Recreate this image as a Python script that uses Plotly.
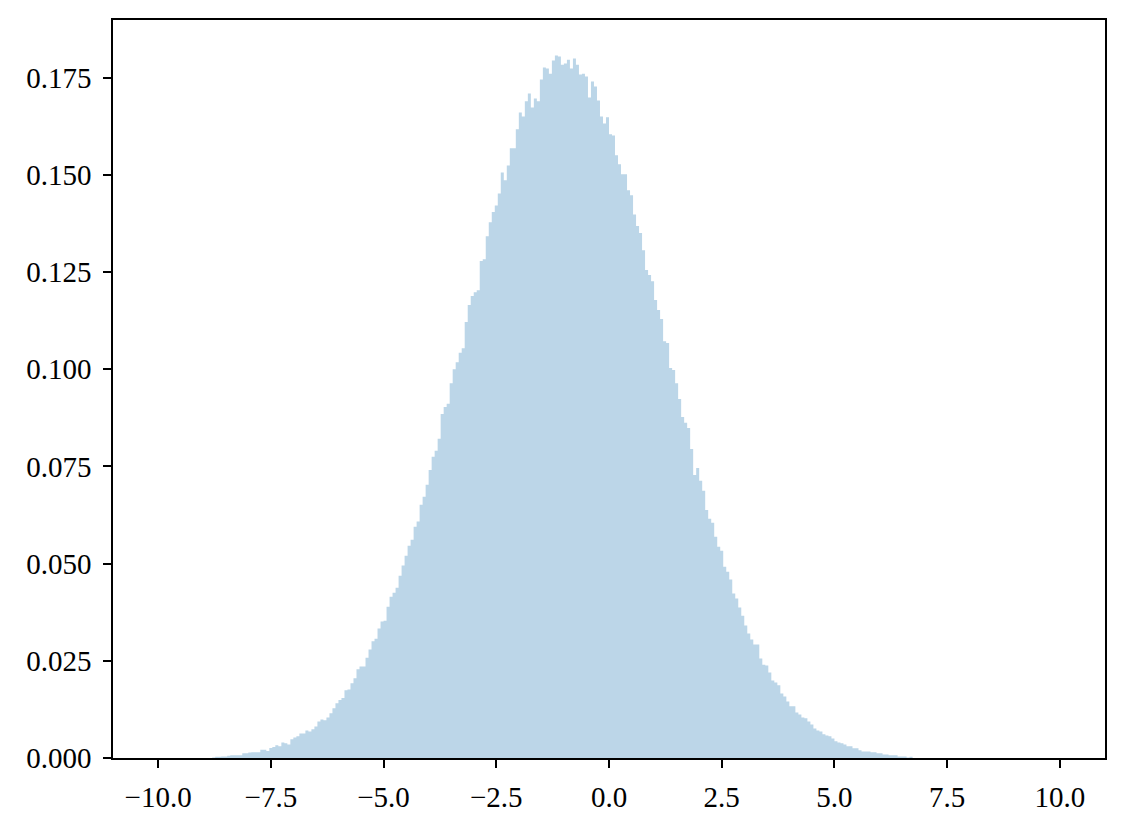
import plotly.graph_objects as go

# Histogram (density), 300 bins across [-10, 10].
# Only the non-empty stretch is listed; bins outside it are zero.
BIN_COUNT = 300
HIST_MIN, HIST_MAX = -10.0, 10.0
FIRST_BIN = 18  # index of the first listed bin (left edge -8.8)

density = [
    0.0001, 0.0003, 0.0003, 0.0004, 0.0004, 0.0006, 0.0007, 0.0007, 0.0007, 0.0007,
    0.0012, 0.0012, 0.0014, 0.0015, 0.0015, 0.0015, 0.0021, 0.0021, 0.0018, 0.0026,
    0.0028, 0.0033, 0.0030, 0.0040, 0.0038, 0.0035, 0.0048, 0.0053, 0.0056, 0.0063,
    0.0063, 0.0071, 0.0068, 0.0074, 0.0081, 0.0094, 0.0099, 0.0097, 0.0104, 0.0115,
    0.0128, 0.0141, 0.0149, 0.0154, 0.0174, 0.0176, 0.0192, 0.0205, 0.0228, 0.0235,
    0.0235, 0.0258, 0.0279, 0.0300, 0.0307, 0.0333, 0.0351, 0.0353, 0.0389, 0.0415,
    0.0425, 0.0438, 0.0469, 0.0495, 0.0520, 0.0546, 0.0561, 0.0595, 0.0608, 0.0651,
    0.0672, 0.0703, 0.0741, 0.0775, 0.0790, 0.0821, 0.0885, 0.0903, 0.0911, 0.0964,
    0.1000, 0.1018, 0.1042, 0.1054, 0.1121, 0.1165, 0.1188, 0.1198, 0.1203, 0.1278,
    0.1283, 0.1342, 0.1378, 0.1404, 0.1421, 0.1452, 0.1506, 0.1486, 0.1524, 0.1568,
    0.1568, 0.1617, 0.1660, 0.1650, 0.1689, 0.1709, 0.1673, 0.1696, 0.1689, 0.1745,
    0.1776, 0.1773, 0.1760, 0.1794, 0.1807, 0.1804, 0.1783, 0.1786, 0.1796, 0.1773,
    0.1799, 0.1783, 0.1758, 0.1760, 0.1753, 0.1699, 0.1740, 0.1727, 0.1691, 0.1650,
    0.1632, 0.1648, 0.1604, 0.1601, 0.1550, 0.1527, 0.1501, 0.1501, 0.1460, 0.1447,
    0.1398, 0.1368, 0.1350, 0.1306, 0.1255, 0.1242, 0.1226, 0.1178, 0.1152, 0.1129,
    0.1072, 0.1067, 0.1003, 0.0998, 0.0964, 0.0923, 0.0877, 0.0862, 0.0849, 0.0795,
    0.0728, 0.0746, 0.0713, 0.0687, 0.0638, 0.0615, 0.0605, 0.0569, 0.0543, 0.0533,
    0.0492, 0.0479, 0.0459, 0.0423, 0.0410, 0.0387, 0.0366, 0.0341, 0.0320, 0.0305,
    0.0292, 0.0292, 0.0256, 0.0240, 0.0238, 0.0220, 0.0199, 0.0194, 0.0187, 0.0166,
    0.0158, 0.0145, 0.0133, 0.0133, 0.0117, 0.0112, 0.0104, 0.0102, 0.0094, 0.0086,
    0.0076, 0.0071, 0.0068, 0.0061, 0.0058, 0.0056, 0.0050, 0.0043, 0.0040, 0.0038,
    0.0035, 0.0030, 0.0030, 0.0025, 0.0025, 0.0020, 0.0017, 0.0017, 0.0017, 0.0015,
    0.0015, 0.0012, 0.0012, 0.0009, 0.0009, 0.0007, 0.0007, 0.0007, 0.0004, 0.0004,
    0.0004, 0.0001, 0.0003,
]

x_ticks = [-10.0, -7.5, -5.0, -2.5, 0.0, 2.5, 5.0, 7.5, 10.0]
y_ticks = [0.0, 0.025, 0.05, 0.075, 0.1, 0.125, 0.15, 0.175]

FILL = '#bcd6e8'   # matplotlib C0 at alpha 0.3 over white
FONT = 'Liberation Serif, Times New Roman, serif'

bin_w = (HIST_MAX - HIST_MIN) / BIN_COUNT
edges = [HIST_MIN + (FIRST_BIN + i) * bin_w for i in range(len(density) + 1)]

fig = go.Figure()
# step outline: each bin's value held from its left edge to its right edge
fig.add_trace(go.Scatter(
    x=edges, y=density + [density[-1]],
    mode='lines', line=dict(shape='hv', width=0),
    fill='tozeroy', fillcolor=FILL,
    hoverinfo='skip', showlegend=False,
))

axis_common = dict(
    showgrid=False, zeroline=False,
    showline=True, mirror=True, linecolor='black', linewidth=1.6,
    ticks='outside', ticklen=8, tickwidth=1.6, tickcolor='black',
    tickfont=dict(family=FONT, size=29, color='black'),
)

fig.update_xaxes(
    range=[-11, 11], tickvals=x_ticks,
    ticktext=[f'{v:.1f}'.replace('-', '\u2212') for v in x_ticks],
    ticklabelstandoff=4,
    **axis_common,
)
fig.update_yaxes(
    range=[0, 0.1898], tickvals=y_ticks,
    ticktext=[f'{v:.3f}' for v in y_ticks],
    ticklabelstandoff=6,
    **axis_common,
)

# the page body adds an 8px offset, so the margins are shifted to compensate
fig.update_layout(
    width=1124, height=827,
    margin=dict(l=105, r=27, t=10, b=77),
    paper_bgcolor='white', plot_bgcolor='white',
    font=dict(family=FONT, color='black'),
)

fig.write_html("out.html")
